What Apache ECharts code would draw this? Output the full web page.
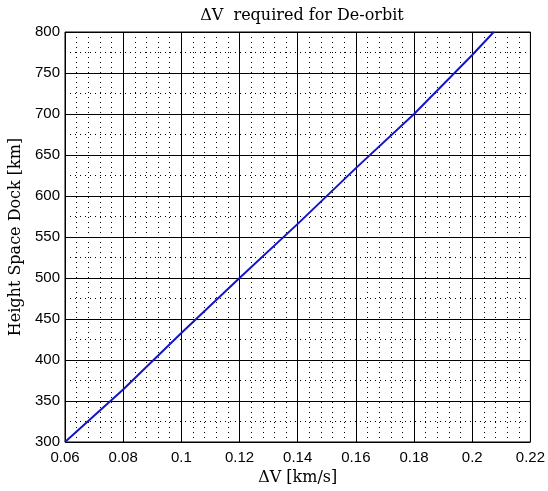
<!DOCTYPE html>
<html>
<head>
<meta charset="utf-8">
<script src="https://cdn.jsdelivr.net/npm/echarts@6/dist/echarts.min.js"></script>
<style>
  html, body { margin: 0; padding: 0; background: #fff; }
  #chart { width: 548px; height: 491px; }
</style>
</head>
<body>
<div id="chart"></div>
<script>
// De-orbit delta-V (km/s) versus parking height of the space dock (km)
const deltaV = [0.06, 0.08, 0.10, 0.12, 0.14, 0.16, 0.18, 0.20, 0.2074];
const height = [300, 364, 433, 500, 566, 634, 700, 772, 800];

const xTicks = [0.06, 0.08, 0.1, 0.12, 0.14, 0.16, 0.18, 0.2, 0.22];
const yTicks = [300, 350, 400, 450, 500, 550, 600, 650, 700, 750, 800];

const titleText = '\u0394V  required for De-orbit';
const xName = '\u0394V [km/s]';
const yName = 'Height Space Dock [km]';

const serif = '"DejaVu Serif", "Liberation Serif", serif';
const sans = '"Liberation Sans", Arial, sans-serif';

const chart = echarts.init(document.getElementById('chart'), null, { renderer: 'canvas' });

const points = deltaV.map((v, i) => [v, height[i]]);

chart.setOption({
  backgroundColor: '#ffffff',
  animation: false,
  title: {
    text: titleText,
    left: 297,
    top: 3,
    textAlign: 'center',
    textStyle: { fontFamily: serif, fontSize: 16, fontWeight: 'normal', color: '#000' }
  },
  grid: {
    left: 65, right: 16, top: 32, bottom: 49,
    show: true, borderColor: '#000', borderWidth: 1, backgroundColor: '#fff'
  },
  xAxis: {
    type: 'value',
    min: xTicks[0],
    max: xTicks[xTicks.length - 1],
    interval: 0.02,
    name: xName,
    nameLocation: 'middle',
    nameGap: 23,
    nameTextStyle: { fontFamily: serif, fontSize: 16, color: '#000' },
    axisLine: { show: false },
    axisTick: { show: false },
    axisLabel: {
      margin: 8, fontFamily: sans, fontSize: 15, color: '#000',
      formatter: v => String(+v.toFixed(2))
    },
    splitLine: { show: true, lineStyle: { color: '#000', width: 1, type: 'solid' } },
    minorTick: { show: false, splitNumber: 5 },
    minorSplitLine: { show: true, lineStyle: { color: '#000', width: 1, type: [1, 4] } }
  },
  yAxis: {
    type: 'value',
    min: yTicks[0],
    max: yTicks[yTicks.length - 1],
    interval: 50,
    name: yName,
    nameLocation: 'middle',
    nameGap: 37,
    nameRotate: 90,
    nameTextStyle: { fontFamily: serif, fontSize: 16, color: '#000' },
    axisLine: { show: false },
    axisTick: { show: false },
    axisLabel: { margin: 5, fontFamily: sans, fontSize: 15, color: '#000' },
    splitLine: { show: true, lineStyle: { color: '#000', width: 1, type: 'solid' } },
    minorTick: { show: false, splitNumber: 2 },
    minorSplitLine: { show: true, lineStyle: { color: '#000', width: 1, type: [1, 4] } }
  },
  series: [{
    type: 'line',
    data: points,
    showSymbol: false,
    smooth: false,
    lineStyle: { color: '#1414c8', width: 2 }
  }]
});
</script>
</body>
</html>
